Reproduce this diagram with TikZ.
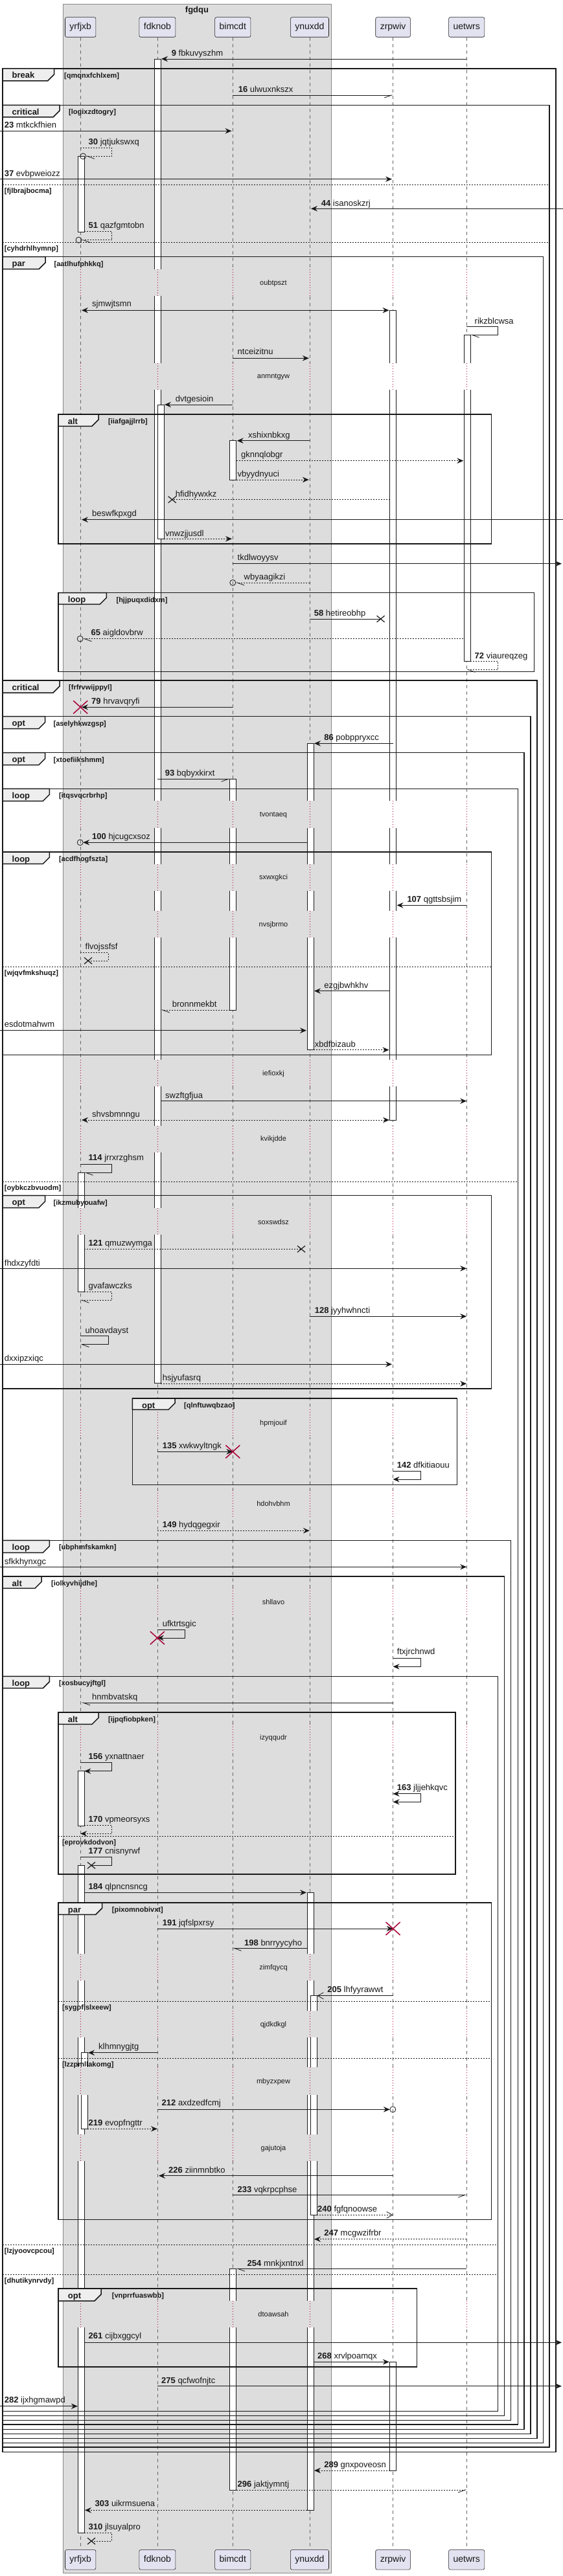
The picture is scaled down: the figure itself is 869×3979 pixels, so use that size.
\documentclass[tikz,border=0pt]{standalone}
\usepackage{fontspec}
\setmainfont{Liberation Sans}
\usetikzlibrary{arrows.meta}
\definecolor{grpfill}{HTML}{DDDDDD}
\definecolor{grpline}{HTML}{888888}
\definecolor{partfill}{HTML}{E2E2F0}
\definecolor{crim}{HTML}{A80036}
\definecolor{tabfill}{HTML}{EEEEEE}
\definecolor{ink}{HTML}{181818}
\def\lnA{124.2}\def\lnB{242.9}\def\lnC{359.3}\def\lnD{477.9}\def\lnE{606.6}\def\lnF{720.2}
\tikzset{
 lifeline/.style={draw=black!60, dash pattern=on 5pt off 5pt, line width=0.6pt},
 delayline/.style={draw=crim, dash pattern=on 1pt off 3pt, line width=0.7pt},
 actbox/.style={draw=ink, fill=white, line width=0.8pt},
 frameline/.style={draw=ink, line width=1.5pt},
 tabbox/.style={fill=tabfill, draw=ink, line width=1.5pt, line join=miter},
 divline/.style={draw=ink, dash pattern=on 2pt off 2pt, line width=0.8pt},
 msg/.style={draw=ink, line width=0.8pt},
 dmsg/.style={draw=ink, line width=0.8pt, dash pattern=on 2pt off 2pt},
 fwd/.style={-{Stealth[length=10pt,width=8.5pt,inset=3.5pt]}},
 bth/.style={{Stealth[length=10pt,width=8.5pt,inset=3.5pt]}-{Stealth[length=10pt,width=8.5pt,inset=3.5pt]}},
 opn/.style={-{Straight Barb[length=9pt,width=10pt]}},
 hR/.style={-{Straight Barb[length=11pt,width=8pt,right]}},
 hL/.style={-{Straight Barb[length=11pt,width=8pt,left]}},
 lbl/.style={anchor=base west, inner sep=0pt, font=\fontsize{13}{15}\selectfont, yshift=-4.4pt, text=ink},
 kwtxt/.style={anchor=base west, inner sep=0pt, font=\bfseries\fontsize{13}{15}\selectfont, yshift=-4.5pt, text=ink},
 condtxt/.style={anchor=base west, inner sep=0pt, font=\bfseries\fontsize{11}{13}\selectfont, yshift=-4pt, text=ink},
 delaytxt/.style={anchor=center, inner sep=0pt, font=\fontsize{11}{13}\selectfont, text=ink},
 part/.style={draw=ink, fill=partfill, line width=0.6pt, rounded corners=2.5pt, inner xsep=7pt, inner ysep=0pt, minimum height=30.6pt, text height=10pt, text depth=3pt, font=\fontsize{14}{16}\selectfont, text=ink},
 grptitle/.style={anchor=base, inner sep=0pt, font=\bfseries\fontsize{13}{15}\selectfont, text=ink}
}
\newcommand\actbar[4]{\draw[actbox] (#1,#3) rectangle (#2,#4);}
\newcommand\lostx[2]{\draw[draw=ink, line width=1.2pt] (#1-6,#2-5) -- (#1+6,#2+5) (#1-6,#2+5) -- (#1+6,#2-5);}
\newcommand\destroyx[2]{\draw[draw=crim, line width=1.5pt] (#1-11,#2-10) -- (#1+11,#2+10) (#1-11,#2+10) -- (#1+11,#2-10);}
\newcommand\ringend[2]{\draw[draw=ink, line width=0.8pt] (#1,#2) circle[radius=4.5pt];}
\newcommand\sqframe[9]{%
 \draw[frameline] (#1,#2) rectangle (#3,#4);
 \draw[tabbox] (#1,#2) -- (#5,#2) -- (#5,#6-10) -- (#5-10,#6) -- (#1,#6) -- cycle;
 \node[kwtxt] (k#9) at (#1+14.5,#2+10.5) {#7};
 \node[condtxt] (c#9) at (#8,#2+10.5) {[#9]};
}
\newcommand\elsediv[5]{%
 \draw[divline] (#1,#3) -- (#2,#3);
 \node[condtxt] (e#5) at (#4,#3+9) {[#5]};
}
\begin{document}
\begin{tikzpicture}[x=1pt,y=-1pt]
\useasboundingbox (0,0) rectangle (869,3979);
\fill[white] (0,0) rectangle (869,3979);
% group box
\draw[fill=grpfill, draw=grpline, line width=0.8pt] (97,6) rectangle (511,3974);
\node[grptitle] (gt) at (304,19.5) {fgdqu};
% participants
\foreach \n/\x/\t in {pA/124.2/yrfjxb, pB/242.9/fdknob, pC/359.3/bimcdt, pD/477.9/ynuxdd, pE/606.6/zrpwiv, pF/720.2/uetwrs} {
  \node[part] (\n) at (\x,42) {\t};
  \node[part] (\n-b) at (\x,3953.8) {\t};
  \draw[lifeline] (\n.south) -- (\n-b.north);
}
% activation bars
\actbar{120.3}{130.3}{241.3}{358.3}
\actbar{120.3}{130.3}{1811.3}{1995}
\actbar{120.3}{130.3}{2735.7}{2820}
\actbar{120.3}{130.3}{2881.3}{3912.7}
\actbar{125.3}{135.3}{3170.7}{3288.3}
\actbar{238.4}{248.4}{91.7}{2136.7}
\actbar{243.4}{253.4}{625}{832.3}
\actbar{354.8}{364.8}{680.7}{741}
\actbar{354.8}{364.8}{1203.3}{1560}
\actbar{354.8}{364.8}{3504.3}{3846}
\actbar{474}{484}{1148.3}{1621.7}
\actbar{474}{484}{2923.3}{3877.3}
\actbar{479}{489}{3082.7}{3421.3}
\actbar{601.6}{611.6}{479.3}{1730}
\actbar{601.6}{611.6}{3648.3}{3816}
\actbar{716.3}{726.3}{517.3}{1021.7}
% delays
\foreach \ya/\yb/\yc/\tx [count=\i] in {415.7/456.7/437.3/oubtpszt, 561/602/582.3/anmntgyw, 1237.3/1278.7/1259.3/tvontaeq, 1335/1376/1356/sxwxgkci, 1406.7/1448.3/1428.3/nvsjbrmo, 1636.7/1678.3/1658.3/iefioxkj, 1739.3/1780/1760/kvikjdde, 1866/1906.7/1887.3/soxswdsz, 2177.3/2220/2199/hpmjouif, 2301.5/2343/2322.3/hdohvbhm, 2453.3/2495/2475/shllavo, 2663.3/2705/2685/izyqqudr, 3017.7/3059.3/3039.3/zimfqycq, 3105.7/3147.3/3127.3/qjdkdkgl, 3193.3/3235.7/3215.7/mbyzxpew, 3296.7/3337.7/3318.3/gajutoja, 3554/3595/3575/dtoawsah} {
  \foreach \xx in {124.2,242.9,359.3,477.9} {\fill[grpfill] (\xx-5,\ya) rectangle (\xx+12,\yb);}
  \foreach \xx in {606.6,720.2} {\fill[white] (\xx-6,\ya) rectangle (\xx+7,\yb);}
  \foreach \xx in {124.2,242.9,359.3,477.9,606.6,720.2} {\draw[delayline] (\xx,\ya) -- (\xx,\yb);}
  \node[delaytxt] (dly\i) at (422,\yc) {\tx};
}
% frames
\sqframe{4}{106}{857.8}{3787.3}{83.5}{125}{break}{99}{qmqnxfchlxem}
\sqframe{4}{162.3}{847.8}{3780}{92}{181}{critical}{106}{logixzdtogry}
\sqframe{4}{396.7}{838.4}{3773.3}{70}{415.7}{par}{83.5}{aatlhufphkkq}
\sqframe{90.2}{640}{758.7}{840}{152}{658.3}{alt}{167}{iiafgajjlrrb}
\sqframe{90.2}{915.7}{824.4}{1037.3}{164.3}{933.3}{loop}{179.4}{hjjpuqxdidxm}
\sqframe{4}{1051}{828.8}{3766.7}{92}{1070}{critical}{106}{frfrvwijppyl}
\sqframe{4}{1106.7}{818.8}{3759.3}{69.6}{1125.7}{opt}{82.4}{aselyhkwzgsp}
\sqframe{4}{1162.7}{808.8}{3752.3}{69.6}{1181.7}{opt}{82.4}{xtoefiikshmm}
\sqframe{4}{1218.3}{799.3}{3745}{76.3}{1237.3}{loop}{90.8}{itqsvqcrbrhp}
\sqframe{4}{1316}{758.7}{1629.3}{76.3}{1334.3}{loop}{90.8}{acdfhogfszta}
\sqframe{4}{1846.7}{758.7}{2145}{69.6}{1865.7}{opt}{82.4}{ikzmubyouafw}
\sqframe{204.4}{2160}{705.7}{2293.3}{270}{2177.3}{opt}{284}{qlnftuwqbzao}
\sqframe{4}{2379.3}{788.7}{3738.3}{76.3}{2398.3}{loop}{90.8}{ubphmfskamkn}
\sqframe{4}{2435}{778.7}{3731.3}{64}{2453.3}{alt}{79}{iolkyvhijdhe}
\sqframe{4}{2589.3}{768.7}{3724.3}{76.3}{2607.7}{loop}{90.8}{xosbucyjftgl}
\sqframe{90.2}{2645}{703}{2895}{152}{2663.3}{alt}{167}{ijpqfiobpken}
\sqframe{90.2}{2939}{758.7}{3428.7}{157.6}{2957.3}{par}{172.7}{pixomnobivxt}
\sqframe{90.2}{3535}{643.3}{3656}{156}{3554}{opt}{172.7}{vnprrfuaswbb}
% else dividers
\elsediv{4}{847.8}{285.3}{6.7}{fjlbrajbocma}
\elsediv{4}{847.8}{374}{6.7}{cyhdrhlhymnp}
\elsediv{4}{758.7}{1493.3}{6.7}{wjqvfmkshuqz}
\elsediv{4}{799.3}{1825}{6.7}{oybkczbvuodm}
\elsediv{90.2}{703}{2836.7}{95.8}{eprovkdodvon}
\elsediv{90.2}{758.7}{3091.7}{95.8}{sygpflslxeew}
\elsediv{90.2}{758.7}{3179.3}{95.8}{lzzpmllakomg}
\elsediv{4}{768.7}{3467.3}{6.7}{lzjyoovcpcou}
\elsediv{4}{768.7}{3513.3}{6.7}{dhutikynrvdy}
% messages
\draw[msg,fwd] (\lnF,91) -- (249,91);
\node[lbl] (t1) at (264.6,81.7) {\textbf{9} fbkuvyszhm};
\draw[msg,hR] (\lnC,147) -- (\lnE,147);
\node[lbl] (t2) at (367.6,137.7) {\textbf{16} ulwuxnkszx};
\draw[msg,fwd] (0,202.3) -- (357.5,202.3);
\node[lbl] (t3) at (6.7,193.3) {\textbf{23} mtkckfhien};
\draw[dmsg,hL] (\lnA,228.3) -- (172.7,228.3) -- (172.7,241.3) -- (132.7,241.3);
\ringend{128.2}{241.3}
\node[lbl] (t4) at (136.5,219) {\textbf{30} jqtjukswxq};
\draw[msg,fwd] (0,276.7) -- (605,276.7);
\node[lbl] (t5) at (6.7,267.7) {\textbf{37} evbpweiozz};
\draw[msg,fwd] (869,322.3) -- (480,322.3);
\node[lbl] (t6) at (495.7,314.3) {\textbf{44} isanoskzrj};
\draw[dmsg,hL] (130.3,357.3) -- (172.7,357.3) -- (172.7,370.7) -- (126,370.7);
\ringend{121.5}{370.7}
\node[lbl] (t7) at (136.5,348.3) {\textbf{51} qazfgmtobn};
\draw[msg,bth] (126,479.3) -- (600.5,479.3);
\node[lbl] (t8) at (142,469.3) {sjmwjtsmn};
\draw[msg,hL] (\lnF,504) -- (768.7,504) -- (768.7,517.3) -- (726.3,517.3);
\node[lbl] (t9) at (732.5,495.7) {rikzblcwsa};
\draw[msg,fwd] (\lnC,553.3) -- (476.8,553.3);
\node[lbl] (t10) at (366.5,543.3) {ntceizitnu};
\draw[msg,fwd] (\lnC,625) -- (254,625);
\node[lbl] (t11) at (270.7,615.7) {dvtgesioin};
\draw[msg,fwd] (\lnD,680.7) -- (365.8,680.7);
\node[lbl] (t12) at (383,672.3) {xshixnbkxg};
\draw[dmsg,fwd] (364.8,711.7) -- (715.3,711.7);
\node[lbl] (t13) at (372,702.3) {gknnqlobgr};
\draw[dmsg,fwd] (364.8,741) -- (476.8,741);
\node[lbl] (t14) at (366.5,732.3) {vbyydnyuci};
\draw[dmsg] (601.6,771.7) -- (265.7,771.7);
\lostx{265.7}{771.7}
\node[lbl] (t15) at (270.7,762.7) {hfidhywxkz};
\draw[msg,fwd] (869,802.7) -- (126,802.7);
\node[lbl] (t16) at (142,793.3) {beswfkpxgd};
\draw[dmsg,fwd] (253.4,832.3) -- (358,832.3);
\node[lbl] (t17) at (255,824) {vnwzjjusdl};
\draw[msg,fwd] (\lnC,870.7) -- (867,870.7);
\node[lbl] (t18) at (366.5,861) {tkdlwoyysv};
\draw[dmsg,hL] (\lnD,900) -- (363.8,900);
\ringend{359.3}{900}
\node[lbl] (t19) at (376.5,890.7) {wbyaagikzi};
\draw[msg] (\lnD,956) -- (587.6,956);
\lostx{587.6}{956}
\node[lbl] (t20) at (484.6,946.7) {\textbf{58} hetireobhp};
\draw[dmsg,hL] (715.3,986.7) -- (128.2,986.7);
\ringend{123.7}{986.7}
\node[lbl] (t21) at (140.4,977.3) {\textbf{65} aigldovbrw};
\draw[dmsg,hL] (726.3,1021.7) -- (768.7,1021.7) -- (768.7,1034.3) -- (\lnF,1034.3);
\node[lbl] (t22) at (732.5,1012.7) {\textbf{72} viaureqzeg};
\draw[msg,fwd] (\lnC,1092.3) -- (126,1092.3);
\destroyx{\lnA}{1092.3}
\node[lbl] (t23) at (141,1083.3) {\textbf{79} hrvavqryfi};
\draw[msg,fwd] (\lnE,1148.3) -- (485,1148.3);
\node[lbl] (t24) at (500.2,1139) {\textbf{86} pobppryxcc};
\draw[msg,hR] (\lnB,1203.3) -- (354.8,1203.3);
\node[lbl] (t25) at (254.6,1194.3) {\textbf{93} bqbyxkirxt};
\draw[msg,fwd] (474,1301.3) -- (128.2,1301.3);
\ringend{123.7}{1301.3}
\node[lbl] (t26) at (142,1292.3) {\textbf{100} hjcugcxsoz};
\draw[msg,fwd] (\lnF,1398.3) -- (612.5,1398.3);
\node[lbl] (t27) at (628.3,1389.3) {\textbf{107} qgttsbsjim};
\draw[dmsg] (\lnA,1471.7) -- (167,1471.7) -- (167,1484) -- (136,1484);
\lostx{136}{1484}
\node[lbl] (t28) at (131.5,1461.7) {flvojssfsf};
\draw[msg,fwd] (601.6,1530.7) -- (485,1530.7);
\node[lbl] (t29) at (500.2,1521.7) {ezgjbwhkhv};
\draw[dmsg,hL] (354.8,1560) -- (248.4,1560);
\node[lbl] (t30) at (265.7,1551) {bronnmekbt};
\draw[msg,fwd] (0,1591.7) -- (473,1591.7);
\node[lbl] (t31) at (6.7,1581.7) {esdotmahwm};
\draw[dmsg,fwd] (484,1621.7) -- (600.5,1621.7);
\node[lbl] (t32) at (485.7,1612.7) {xbdfbizaub};
\draw[msg,fwd] (248.4,1700.7) -- (\lnF,1700.7);
\node[lbl] (t33) at (255,1691.7) {swzftgfjua};
\draw[dmsg,bth] (126,1730) -- (601,1730);
\node[lbl] (t34) at (142,1721) {shvsbmnngu};
\draw[msg,hL] (\lnA,1798.3) -- (172.7,1798.3) -- (172.7,1811.3) -- (130.3,1811.3);
\node[lbl] (t35) at (136.5,1788.3) {\textbf{114} jrrxrzghsm};
\draw[dmsg] (130.3,1929.3) -- (465,1929.3);
\lostx{465}{1929.3}
\node[lbl] (t36) at (136.5,1920) {\textbf{121} qmuzwymga};
\draw[msg,fwd] (0,1959.3) -- (\lnF,1959.3);
\node[lbl] (t37) at (6.7,1950.7) {fhdxzyfdti};
\draw[dmsg,hL] (130.3,1995) -- (172.7,1995) -- (172.7,2008.3) -- (\lnA,2008.3);
\node[lbl] (t38) at (136.5,1985.7) {gvafawczks};
\draw[msg,fwd] (\lnD,2033.3) -- (\lnF,2033.3);
\node[lbl] (t39) at (485.7,2024) {\textbf{128} jyyhwhncti};
\draw[msg,hL] (\lnA,2063.3) -- (167,2063.3) -- (167,2076.7) -- (\lnA,2076.7);
\node[lbl] (t40) at (131.5,2055) {uhoavdayst};
\draw[msg,fwd] (0,2107.3) -- (605,2107.3);
\node[lbl] (t41) at (6.7,2097.7) {dxxipzxiqc};
\draw[dmsg,fwd] (248.4,2137.3) -- (\lnF,2137.3);
\node[lbl] (t42) at (250.6,2128.3) {hsjyufasrq};
\draw[msg,fwd] (\lnB,2242.3) -- (\lnC,2242.3);
\destroyx{\lnC}{2242.3}
\node[lbl] (t43) at (250.6,2232.7) {\textbf{135} xwkwyltngk};
\draw[msg,fwd] (\lnE,2272.3) -- (649,2272.3) -- (649,2285) -- (\lnE,2285);
\node[lbl] (t44) at (612.7,2263.3) {\textbf{142} dfkitiaouu};
\draw[dmsg,fwd] (\lnB,2364.3) -- (\lnD,2364.3);
\node[lbl] (t45) at (250.6,2355) {\textbf{149} hydqgegxir};
\draw[msg,fwd] (0,2420.3) -- (\lnF,2420.3);
\node[lbl] (t46) at (6.7,2411.7) {sfkkhynxgc};
\draw[msg,fwd] (\lnB,2517.3) -- (285.7,2517.3) -- (285.7,2530) -- (\lnB,2530);
\destroyx{\lnB}{2530}
\node[lbl] (t47) at (250.6,2508.3) {ufktrtsgic};
\draw[msg,fwd] (\lnE,2561.7) -- (649,2561.7) -- (649,2574.3) -- (\lnE,2574.3);
\node[lbl] (t48) at (612.7,2551) {ftxjrchnwd};
\draw[msg,hL] (\lnE,2630) -- (126,2630);
\node[lbl] (t49) at (142,2620.7) {hnmbvatskq};
\draw[msg,fwd] (\lnA,2722.3) -- (172.7,2722.3) -- (172.7,2735.7) -- (130.3,2735.7);
\node[lbl] (t50) at (136.5,2713.3) {\textbf{156} yxnattnaer};
\draw[msg,bth] (\lnE,2770.7) -- (649,2770.7) -- (649,2783.3) -- (\lnE,2783.3);
\node[lbl] (t51) at (612.7,2761) {\textbf{163} jljjehkqvc};
\draw[dmsg,fwd] (130.3,2819.3) -- (172.7,2819.3) -- (172.7,2832.3) -- (\lnA,2832.3);
\node[lbl] (t52) at (136.5,2810) {\textbf{170} vpmeorsyxs};
\draw[msg] (\lnA,2868.3) -- (172.7,2868.3) -- (172.7,2881.3) -- (141,2881.3);
\lostx{141}{2881.3}
\node[lbl] (t53) at (136.5,2859.3) {\textbf{177} cnisnyrwf};
\draw[msg,fwd] (130.3,2923.3) -- (473,2923.3);
\node[lbl] (t54) at (136.5,2914.3) {\textbf{184} qlpncnsncg};
\draw[msg,fwd] (\lnB,2979) -- (\lnE,2979);
\destroyx{\lnE}{2979}
\node[lbl] (t55) at (250.6,2970) {\textbf{191} jqfslpxrsy};
\draw[msg,hL] (474,3009.3) -- (\lnC,3009.3);
\node[lbl] (t56) at (377,3000.7) {\textbf{198} bnrryycyho};
\draw[msg,opn] (\lnE,3082.7) -- (489.5,3082.7);
\node[lbl] (t57) at (505.2,3072.7) {\textbf{205} lhfyyrawwt};
\draw[msg,fwd] (\lnB,3170.7) -- (136,3170.7);
\node[lbl] (t58) at (152,3161) {klhmnygjtg};
\draw[msg,fwd] (\lnB,3258.3) -- (601.8,3258.3);
\ringend{606.3}{3258.3}
\node[lbl] (t59) at (249.5,3248.3) {\textbf{212} axdzedfcmj};
\draw[dmsg,fwd] (135.3,3288.3) -- (\lnB,3288.3);
\node[lbl] (t60) at (136.5,3279.3) {\textbf{219} evopfngttr};
\draw[msg,fwd] (\lnE,3360.7) -- (245,3360.7);
\node[lbl] (t61) at (260,3351.7) {\textbf{226} ziinmnbtko};
\draw[msg,hR] (\lnC,3390.3) -- (\lnF,3390.3);
\node[lbl] (t62) at (366.5,3381.7) {\textbf{233} vqkrpcphse};
\draw[dmsg,opn] (489,3421.3) -- (\lnE,3421.3);
\node[lbl] (t63) at (490,3411.7) {\textbf{240} fgfqnoowse};
\draw[dmsg,fwd] (\lnF,3458.7) -- (485,3458.7);
\node[lbl] (t64) at (500.2,3449.3) {\textbf{247} mcgwzifrbr};
\draw[msg,hL] (\lnF,3504.3) -- (364.8,3504.3);
\node[lbl] (t65) at (381.5,3495.7) {\textbf{254} mnkjxntnxl};
\draw[msg,fwd] (130.3,3618.3) -- (867,3618.3);
\node[lbl] (t66) at (136.5,3608.3) {\textbf{261} cijbxggcyl};
\draw[msg,fwd] (484,3648.3) -- (600.8,3648.3);
\node[lbl] (t67) at (490,3639.3) {\textbf{268} xrvlpoamqx};
\draw[msg,fwd] (\lnB,3685.7) -- (867,3685.7);
\node[lbl] (t68) at (249,3676.7) {\textbf{275} qcfwofnjtc};
\draw[msg,fwd] (0,3716.7) -- (119.8,3716.7);
\node[lbl] (t69) at (6.7,3706.7) {\textbf{282} ijxhgmawpd};
\draw[dmsg,fwd] (601.6,3816) -- (485,3816);
\node[lbl] (t70) at (500.2,3807.3) {\textbf{289} gnxpoveosn};
\draw[dmsg,hR] (364.8,3846) -- (\lnF,3846);
\node[lbl] (t71) at (366.5,3837.3) {\textbf{296} jaktjymntj};
\draw[dmsg,fwd] (474,3877.3) -- (131,3877.3);
\node[lbl] (t72) at (146.5,3867.3) {\textbf{303} uikrmsuena};
\draw[dmsg] (130.3,3912.7) -- (172.7,3912.7) -- (172.7,3925) -- (141,3925);
\lostx{141}{3925}
\node[lbl] (t73) at (136.5,3903.3) {\textbf{310} jlsuyalpro};
\end{tikzpicture}
\end{document}
